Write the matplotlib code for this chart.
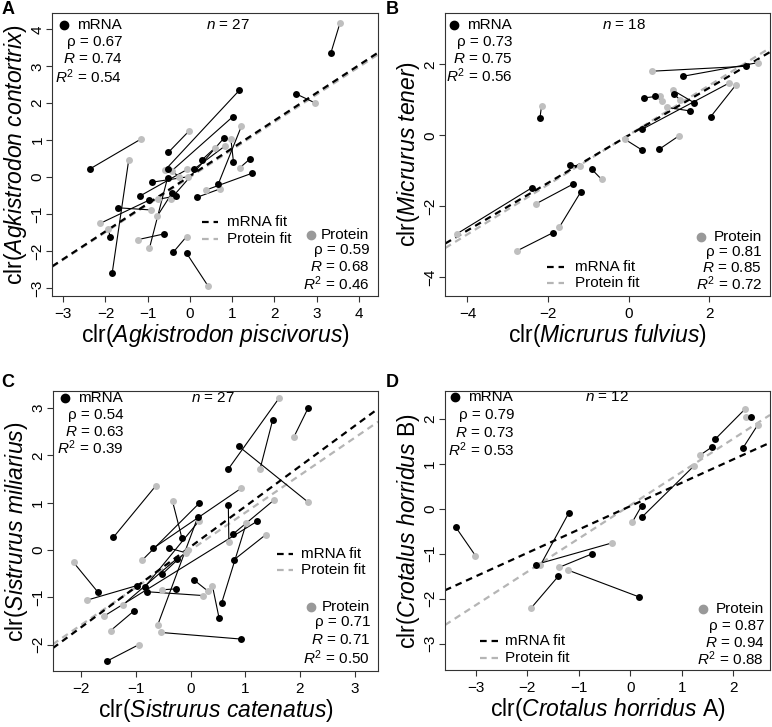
import numpy as np
import matplotlib
matplotlib.use('Agg')
from matplotlib import pyplot as plt

plt.rcParams['font.family'] = ['Liberation Sans', 'DejaVu Sans']
plt.rcParams['mathtext.fontset'] = 'custom'
plt.rcParams['mathtext.rm'] = 'Liberation Sans'
plt.rcParams['mathtext.it'] = 'Liberation Sans:italic'

# ---- panel A: Agkistrodon ----
a_mx = [3.34, 2.50, 1.17, 1.01, 0.80, -0.51, -2.37, 1.42, 1.03, 1.46, 0.28, 0.09, -0.91, -0.51,
        -0.53, -0.32, -0.43, -1.18, -0.96, 0.16, 0.67, -1.71, -0.62, -1.89, -0.40, -0.08, -1.84]
a_my = [3.37, 2.26, 2.35, 1.63, 1.05, 0.67, 0.22, 0.49, 0.42, 0.10, 0.46, 0.21, -0.14, 0.22,
        -0.02, -0.51, -0.44, -0.51, -0.62, -0.55, -0.19, -0.83, -1.54, -1.61, -2.04, -2.06, -2.59]
a_px = [3.55, 2.96, -0.59, -0.43, -0.46, -0.02, -1.16, 1.18, 0.97, 0.38, 0.59, 0.84, -0.04, -0.25,
        -0.96, -0.75, -0.77, -0.06, -2.12, 0.71, 1.22, -0.92, -1.22, -1.93, -0.08, 0.43, -1.45]
a_py = [4.16, 2.01, 0.19, 0.17, -0.60, 1.25, 1.03, 0.25, 1.03, -0.35, 0.79, 0.85, 0.01, 0.01,
        -1.93, -0.60, -1.05, 0.21, -1.25, -0.32, 1.38, -0.89, -1.69, -1.41, -1.61, -2.95, 0.46]

# ---- panel B: Micrurus ----
b_mx = [2.91, 1.36, 2.04, 0.33, -2.20, 0.39, 0.66, 1.13, 1.63, 1.53, 0.33, 0.76, -1.45, -0.91,
        -2.39, -1.39, -1.19, -1.87]
b_my = [1.95, 1.67, 0.53, 0.17, 0.50, 1.06, 1.11, 1.16, 0.92, 0.69, -0.41, -0.39, -0.84, -0.96,
        -1.47, -1.38, -1.60, -2.74]
b_px = [0.57, 3.20, 2.66, 2.50, -2.16, 0.78, 0.82, 1.27, 1.09, 0.95, -0.09, 1.24, -1.21, -0.67,
        -4.27, -2.30, -1.72, -2.76]
b_py = [1.81, 2.05, 1.42, 1.48, 0.83, 1.11, 0.98, 1.01, 1.28, 0.79, -0.11, -0.02, -0.86, -1.24,
        -2.78, -1.93, -2.59, -3.25]

# ---- panel C: Sistrurus ----
c_mx = [2.15, 1.50, 0.88, 0.69, 0.16, -1.41, -0.68, -0.39, -0.16, 0.13, 0.69, 0.78, 1.22, 0.80,
        -0.25, -0.52, -0.98, -0.83, -0.80, -1.70, -0.27, 0.06, 0.57, 0.52, -1.03, 0.93, -1.52]
c_my = [3.00, 2.74, 2.19, 1.71, 0.99, 0.27, 0.04, 0.04, 0.26, 0.69, 0.96, 0.34, 0.61, -0.20,
        -0.18, -0.51, -0.75, -0.77, -0.88, -0.88, -0.82, -0.63, -1.11, -1.43, -1.28, -1.88, -2.34]
c_px = [1.89, 1.27, 2.15, 1.62, -0.89, -0.64, 0.92, -0.08, -0.33, -0.60, 0.70, 1.53, -1.59, 1.37,
        -1.23, -0.04, -1.90, 0.15, 0.22, -2.14, -0.53, 0.31, 1.02, 0.40, -1.46, -0.54, -0.95]
c_py = [2.39, 1.71, 1.01, 3.21, -0.22, 1.35, 1.30, -0.06, 1.03, -1.58, 0.16, 1.06, -1.40, 0.32,
        -1.15, 0.01, -1.06, 0.61, -0.96, -0.26, -0.84, -0.86, 0.57, -0.76, -1.70, -1.74, -2.00]

# ---- panel D: Crotalus ----
d_mx = [2.35, 1.64, 1.58, 2.19, 0.22, 0.22, -3.39, -1.20, -0.74, -1.84, -1.40, 0.17]
d_my = [2.04, 1.54, 1.37, 1.36, 0.07, -0.19, -0.41, -0.10, -1.00, -1.24, -1.50, -1.96]
d_px = [2.24, 2.22, 1.35, 2.47, 0.04, 1.24, -3.01, -1.75, -1.38, -0.36, -1.93, -1.22]
d_py = [2.04, 2.21, 1.19, 1.86, -0.29, 0.96, -1.04, -1.26, -1.30, -0.76, -2.21, -1.36]

# fitted lines (intercept, slope)
fit_m = [(0.03, 0.75), (0.0, 0.67), (0.07, 0.85), (0.06, 0.52)]
fit_p = [(0.0, 0.745), (0.01, 0.70), (0.0, 0.79), (0.08, 0.74)]

stats_m = [('0.67', '0.74', '0.54'), ('0.73', '0.75', '0.56'), ('0.54', '0.63', '0.39'), ('0.79', '0.73', '0.53')]
stats_p = [('0.59', '0.68', '0.46'), ('0.81', '0.85', '0.72'), ('0.71', '0.71', '0.50'), ('0.87', '0.94', '0.88')]
ns = [27, 18, 27, 12]
xnames = [r'clr($\it{Agkistrodon\ piscivorus}$)', r'clr($\it{Micrurus\ fulvius}$)',
          r'clr($\it{Sistrurus\ catenatus}$)', r'clr($\it{Crotalus\ horridus}$ A)']
ynames = [r'clr($\it{Agkistrodon\ contortrix}$)', r'clr($\it{Micrurus\ tener}$)',
          r'clr($\it{Sistrurus\ miliarius}$)', r'clr($\it{Crotalus\ horridus}$ B)']
letters = ['A', 'B', 'C', 'D']
xlims = [(-3.26, 4.46), (-4.55, 3.51), (-2.52, 3.43), (-3.60, 2.71)]
ylims = [(-3.22, 4.45), (-4.53, 3.46), (-2.56, 3.35), (-3.59, 2.61)]
xticks = [range(-3, 5), [-4, -2, 0, 2], range(-2, 4), range(-3, 3)]
yticks = [range(-3, 5), [-4, -2, 0, 2], range(-2, 4), range(-3, 3)]

data = [(a_mx, a_my, a_px, a_py), (b_mx, b_my, b_px, b_py),
        (c_mx, c_my, c_px, c_py), (d_mx, d_my, d_px, d_py)]

# layout per panel (axes fractions)
rects = [[0.0677, 0.5928, 0.4223, 0.3897], [0.5768, 0.5928, 0.4206, 0.3897],
         [0.0683, 0.0766, 0.4216, 0.3851], [0.5764, 0.078, 0.4210, 0.3837]]
# mRNA block: marker x, stats right x, row y's
mblk = [(0.037, 0.215, [0.957, 0.898, 0.836, 0.774]),
        (0.028, 0.207, [0.957, 0.898, 0.838, 0.778]),
        (0.038, 0.219, [0.978, 0.916, 0.854, 0.798]),
        (0.030, 0.213, [0.978, 0.916, 0.851, 0.791])]
nx = [0.54, 0.551, 0.493, 0.50]
pblk = [(0.795, 0.972, [0.215, 0.162, 0.103, 0.045]),
        (0.788, 0.975, [0.207, 0.156, 0.098, 0.042]),
        (0.792, 0.975, [0.229, 0.175, 0.113, 0.050]),
        (0.795, 0.982, [0.220, 0.158, 0.098, 0.040])]
legpos = [(0.458, 0.509, 0.535, 0.262, 0.201), (0.313, 0.365, 0.40, 0.103, 0.045),
          (0.688, 0.739, 0.763, 0.419, 0.363), (0.109, 0.162, 0.186, 0.106, 0.044)]
letterpos = [(0.002, 0.998), (0.500, 0.998), (0.002, 0.485), (0.500, 0.485)]

GRAY = '#bfbfbf'
DASH = (3.0, 2.2)
fs = 11

fig = plt.figure(figsize=(7.72, 7.27), dpi=100)
for i in range(4):
    ax = fig.add_axes(rects[i])
    mx, my, px, py = data[i]
    bm, sm = fit_m[i]
    bp, sp = fit_p[i]
    ax.axline((0, bp), slope=sp, color='#b5b5b5', lw=1.6, dashes=DASH, zorder=1)
    ax.axline((0, bm), slope=sm, color='black', lw=1.6, dashes=DASH, zorder=1.1)
    for j in range(len(mx)):
        ax.plot([mx[j], px[j]], [my[j], py[j]], color='black', lw=0.8, zorder=2)
    ax.plot(px, py, 'o', color=GRAY, ms=5, mec='none', zorder=3)
    ax.plot(mx, my, 'o', color='black', ms=5, mec='none', zorder=3)

    ax.set_xlim(xlims[i])
    ax.set_ylim(ylims[i])
    ax.set_xticks(list(xticks[i]))
    ax.set_yticks(list(yticks[i]))
    ax.tick_params(direction='out', length=4, width=0.8, labelsize=11, pad=4, color='#333333')
    ax.tick_params(axis='y', pad=1.5)
    for lab in ax.get_yticklabels():
        lab.set_rotation(90)
        lab.set_va('center')
    for s in ax.spines.values():
        s.set_linewidth(0.8)
        s.set_color('#333333')
    ax.set_xlabel(xnames[i], fontsize=16.5, labelpad=0.5)
    ax.set_ylabel(ynames[i], fontsize=16.5, labelpad=1)

    T = ax.transAxes
    mkx, rx, ry = mblk[i]
    ax.plot([mkx], [ry[0]], 'o', color='black', ms=6, transform=T, clip_on=False)
    ax.text(mkx + 0.04, ry[0], 'mRNA', transform=T, fontsize=fs, va='center', ha='left')
    rho, r, r2 = stats_m[i]
    ax.text(rx, ry[1], 'ρ = ' + rho, transform=T, fontsize=fs, va='center', ha='right')
    ax.text(rx, ry[2], r'$R$ = ' + r, transform=T, fontsize=fs, va='center', ha='right')
    ax.text(rx, ry[3], r'$R^2$ = ' + r2, transform=T, fontsize=fs, va='center', ha='right')
    ax.text(nx[i], ry[0], r'$n$ = %d' % ns[i], transform=T, fontsize=fs, va='center', ha='center')

    pmk, prx, pry = pblk[i]
    ax.plot([pmk], [pry[0]], 'o', color='#999999', ms=6, transform=T, clip_on=False)
    ax.text(prx, pry[0], 'Protein', transform=T, fontsize=fs, va='center', ha='right')
    rho, r, r2 = stats_p[i]
    ax.text(prx, pry[1], 'ρ = ' + rho, transform=T, fontsize=fs, va='center', ha='right')
    ax.text(prx, pry[2], r'$R$ = ' + r, transform=T, fontsize=fs, va='center', ha='right')
    ax.text(prx, pry[3], r'$R^2$ = ' + r2, transform=T, fontsize=fs, va='center', ha='right')

    lx0, lx1, ltx, ly0, ly1 = legpos[i]
    ax.plot([lx0, lx1], [ly0, ly0], color='black', lw=1.6, dashes=DASH, transform=T)
    ax.plot([lx0, lx1], [ly1, ly1], color='#b5b5b5', lw=1.6, dashes=DASH, transform=T)
    ax.text(ltx, ly0, 'mRNA fit', transform=T, fontsize=fs, va='center', ha='left')
    ax.text(ltx, ly1, 'Protein fit', transform=T, fontsize=fs, va='center', ha='left')

    fig.text(letterpos[i][0], letterpos[i][1], letters[i], fontsize=13, fontweight='bold',
             va='top', ha='left')

fig.savefig('out.png', dpi=100)
